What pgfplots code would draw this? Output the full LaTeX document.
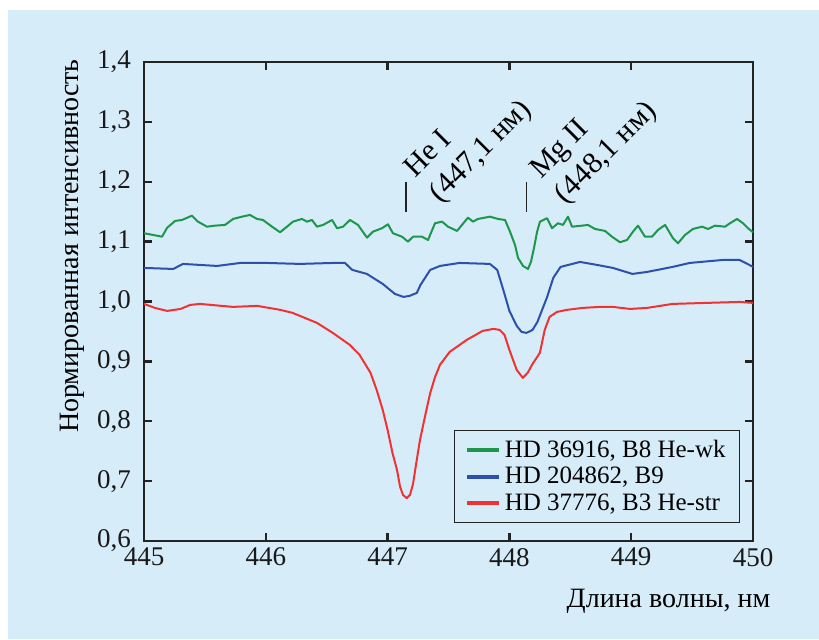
\documentclass[border=0pt]{standalone}
\usepackage{fontspec}
\setmainfont{Liberation Serif}
\usepackage{pgfplots}
\pgfplotsset{compat=1.18}
\definecolor{bgblue}{RGB}{214,236,249}
\definecolor{cgreen}{RGB}{30,150,75}
\definecolor{cblue}{RGB}{45,80,170}
\definecolor{cred}{RGB}{240,50,50}
\definecolor{axcol}{RGB}{35,35,35}
\begin{document}
\begin{tikzpicture}
\fill[white] (0,0) rectangle (409.5pt,319.5pt);
\fill[bgblue] (4pt,0) rectangle (409.5pt,314.5pt);
\begin{axis}[
  at={(72pt,49pt)}, anchor=south west,
  scale only axis, width=304.5pt, height=239.5pt,
  xmin=445, xmax=450, ymin=0.6, ymax=1.4,
  xtick={445,446,447,448,449,450},
  ytick={0.6,0.7,0.8,0.9,1.0,1.1,1.2,1.3,1.4},
  tick align=inside, major tick length=4pt,
  axis line style={line width=1.2pt, axcol},
  every tick/.style={line width=1.2pt, axcol},
  /pgf/number format/assume math mode=true,
  yticklabel style={/pgf/number format/fixed, /pgf/number format/fixed zerofill,
    /pgf/number format/precision=1, /pgf/number format/use comma, xshift=-3pt},
  ticklabel style={font=\fontsize{13.5}{16}\selectfont, text=black!90},
  clip=false,
  legend style={at={(0.979,0.038)}, anchor=south east, draw=axcol, line width=0.6pt,
    fill=none, font=\fontsize{12.5}{14}\selectfont, row sep=-0.5pt, inner xsep=5pt, inner ysep=2.5pt},
  legend cell align=left,
  legend image code/.code={\draw[line width=2pt] (0pt,0pt) -- (16pt,0pt);},
  every axis plot/.append style={line width=1pt, line join=round},
]
\addplot[cgreen] coordinates {
(445.000,1.1140) (445.074,1.1112) (445.148,1.1083) (445.189,1.1229) (445.255,1.1346)
(445.312,1.1362) (445.394,1.1434) (445.443,1.1334) (445.517,1.1250) (445.583,1.1267)
(445.665,1.1279) (445.731,1.1379) (445.805,1.1417) (445.870,1.1446) (445.928,1.1379)
(445.977,1.1362) (446.051,1.1250) (446.117,1.1157) (446.174,1.1250) (446.223,1.1334)
(446.297,1.1379) (446.338,1.1334) (446.379,1.1362) (446.420,1.1250) (446.470,1.1279)
(446.544,1.1362) (446.585,1.1224) (446.634,1.1250) (446.691,1.1362) (446.757,1.1279)
(446.831,1.1067) (446.880,1.1167) (446.954,1.1224) (447.003,1.1290) (447.044,1.1140)
(447.118,1.1083) (447.167,1.1000) (447.209,1.1083) (447.282,1.1083) (447.332,1.1028)
(447.389,1.1307) (447.447,1.1334) (447.496,1.1250) (447.570,1.1179) (447.660,1.1401)
(447.701,1.1334) (447.742,1.1379) (447.841,1.1417) (447.906,1.1379) (447.964,1.1362)
(448.005,1.1167) (448.046,1.0945) (448.071,1.0728) (448.112,1.0594) (448.153,1.0544)
(448.177,1.0661) (448.202,1.0895) (448.227,1.1162) (448.251,1.1334) (448.309,1.1391)
(448.350,1.1224) (448.399,1.1307) (448.440,1.1279) (448.481,1.1417) (448.514,1.1250)
(448.596,1.1267) (448.645,1.1279) (448.703,1.1212) (448.785,1.1179) (448.842,1.1083)
(448.908,1.0990) (448.966,1.1028) (449.015,1.1167) (449.056,1.1267) (449.113,1.1083)
(449.171,1.1083) (449.220,1.1195) (449.278,1.1279) (449.343,1.1057) (449.384,1.0973)
(449.442,1.1112) (449.507,1.1212) (449.581,1.1250) (449.631,1.1212) (449.688,1.1267)
(449.770,1.1250) (449.811,1.1307) (449.869,1.1379) (449.918,1.1307) (449.959,1.1224)
(450.000,1.1157)
};
\addlegendentry{HD 36916, B8 He-wk}
\addplot[cblue] coordinates {
(445.00,1.0561) (445.24,1.0544) (445.32,1.0628) (445.60,1.0594) (445.79,1.0644)
(446.01,1.0644) (446.28,1.0628) (446.55,1.0644) (446.65,1.0644) (446.71,1.0528)
(446.83,1.0461) (446.96,1.0294) (447.06,1.0127) (447.13,1.0077) (447.18,1.0094)
(447.24,1.0144) (447.27,1.0277) (447.35,1.0528) (447.43,1.0594) (447.59,1.0644)
(447.84,1.0628) (447.90,1.0528) (447.95,1.0194) (448.00,0.9843) (448.06,0.9593)
(448.10,0.9492) (448.14,0.9476) (448.19,0.9526) (448.23,0.9659) (448.31,1.0077)
(448.36,1.0394) (448.42,1.0578) (448.58,1.0661) (448.72,1.0611) (448.85,1.0561)
(449.01,1.0461) (449.13,1.0494) (449.34,1.0578) (449.48,1.0644) (449.75,1.0694)
(449.89,1.0694) (449.97,1.0611) (450.00,1.0578)
};
\addlegendentry{HD 204862, B9}
\addplot[cred] coordinates {
(445.00,0.9960) (445.09,0.9893) (445.19,0.9843) (445.30,0.9876) (445.38,0.9943)
(445.46,0.9960) (445.73,0.9910) (445.93,0.9927) (446.12,0.9860) (446.22,0.9810)
(446.42,0.9643) (446.55,0.9476) (446.69,0.9275) (446.77,0.9108) (446.86,0.8808)
(446.91,0.8524) (446.96,0.8190) (447.00,0.7856) (447.04,0.7472) (447.077,0.7189)
(447.102,0.6910) (447.126,0.6771) (447.157,0.6716) (447.184,0.6771) (447.209,0.6955)
(447.233,0.7272) (447.266,0.7689) (447.31,0.8107) (447.35,0.8474) (447.39,0.8741)
(447.43,0.8942) (447.51,0.9159) (447.65,0.9359) (447.78,0.9509) (447.87,0.9543)
(447.92,0.9526) (447.96,0.9442) (448.00,0.9192) (448.06,0.8858) (448.11,0.8725)
(448.15,0.8808) (448.19,0.8958) (448.25,0.9142) (448.29,0.9526) (448.33,0.9743)
(448.39,0.9826) (448.47,0.9860) (448.60,0.9893) (448.74,0.9910) (448.85,0.9910)
(448.99,0.9876) (449.13,0.9893) (449.34,0.9960) (449.62,0.9977) (449.89,0.9993)
(450.00,0.9977)
};
\addlegendentry{HD 37776, B3 He-str}
\draw[line width=0.9pt, axcol] (axis cs:447.15,1.15) -- (axis cs:447.15,1.2);
\draw[line width=0.9pt, axcol] (axis cs:448.14,1.15) -- (axis cs:448.14,1.2);
\node[rotate=45, anchor=south west, align=left, inner sep=0pt,
  font=\fontsize{15}{17.5}\selectfont] at (axis cs:447.47,1.156) {He I\\(447,1 нм)};
\node[rotate=45, anchor=south west, align=left, inner sep=0pt,
  font=\fontsize{15}{17.5}\selectfont] at (axis cs:448.50,1.154) {Mg II\\(448,1 нм)};
\node[rotate=90, anchor=east, font=\fontsize{14}{16}\selectfont]
  at (axis description cs:-0.118,1.02) {Нормированная интенсивность};
\node[anchor=east, font=\fontsize{14}{16}\selectfont]
  at (axis description cs:1.04,-0.125) {Длина волны, нм};
\end{axis}
\end{tikzpicture}
\end{document}
